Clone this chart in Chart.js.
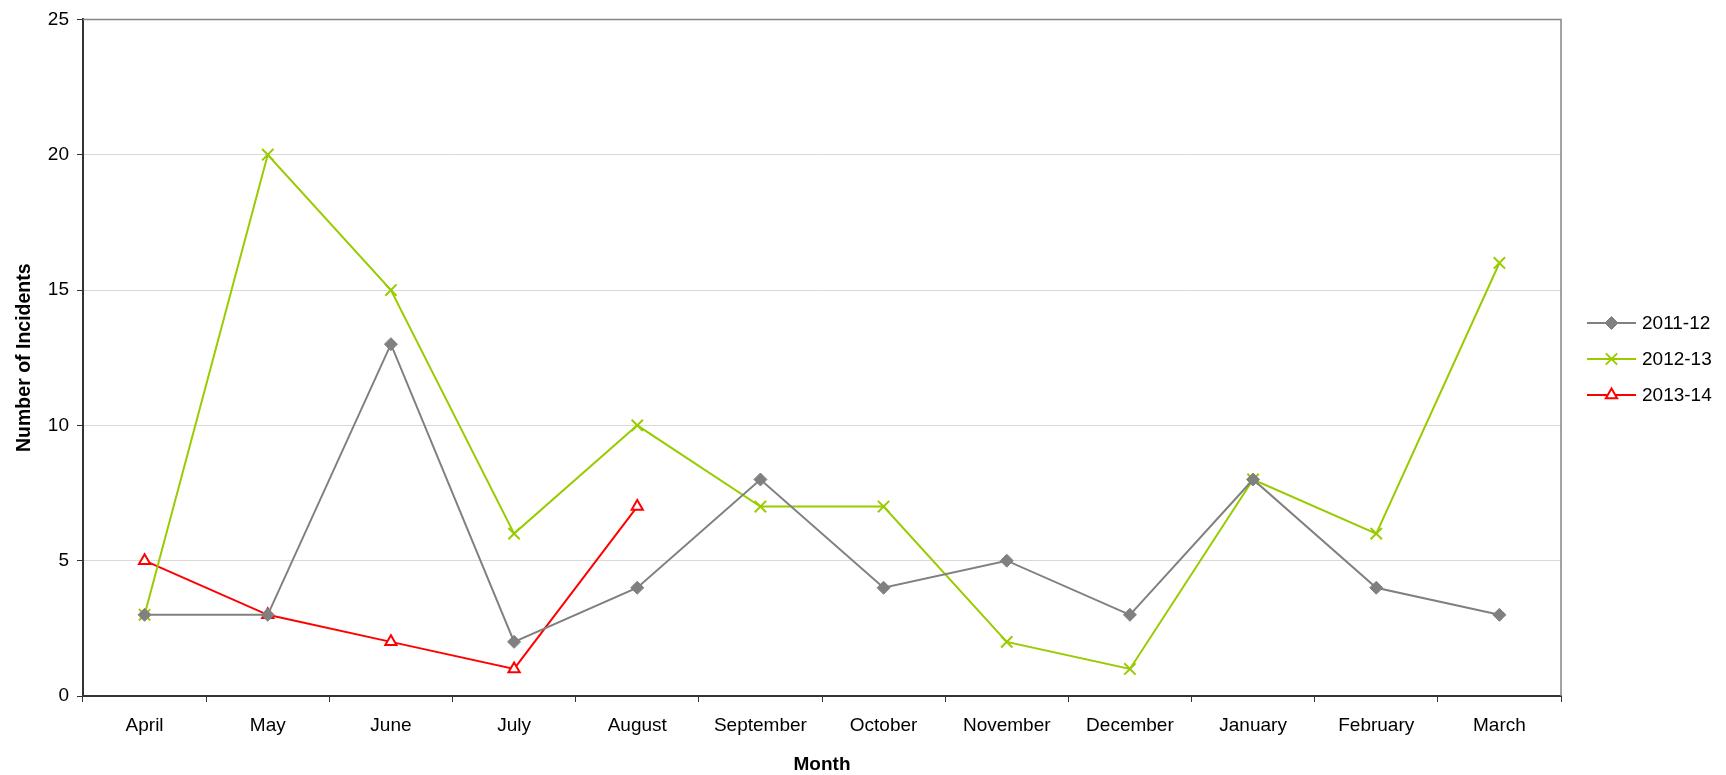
<!DOCTYPE html>
<html>
<head>
<meta charset="utf-8">
<script src="https://cdn.jsdelivr.net/npm/chart.js@4/dist/chart.umd.min.js"></script>
<style>
  html, body { margin: 0; padding: 0; background: #fff; }
  #wrap { width: 1726px; height: 775px; position: relative; }
</style>
</head>
<body>
<div id="wrap"><canvas id="c"></canvas></div>
<script>
// Monthly incident counts by financial year
const months = ['April', 'May', 'June', 'July', 'August', 'September', 'October',
                'November', 'December', 'January', 'February', 'March'];
const incidents2011 = [3, 3, 13, 2, 4, 8, 4, 5, 3, 8, 4, 3];
const incidents2012 = [3, 20, 15, 6, 10, 7, 7, 2, 1, 8, 6, 16];
const incidents2013 = [5, 3, 2, 1, 7];
const yTicks = [0, 5, 10, 15, 20, 25];

const FONT = 'Liberation Sans, Arial, sans-serif';

// Legend drawn at the right, with a short line and the series marker
const sideLegend = {
  id: 'sideLegend',
  afterDraw(chart) {
    const ctx = chart.ctx;
    const x0 = 1587, x1 = 1636, tx = 1642;
    const rows = [323, 359, 395];
    chart.data.datasets.forEach((ds, i) => {
      const y = rows[i];
      ctx.save();
      ctx.strokeStyle = ds.borderColor;
      ctx.lineWidth = 2;
      ctx.beginPath();
      ctx.moveTo(x0, y);
      ctx.lineTo(x1, y);
      ctx.stroke();
      ctx.fillStyle = ds.pointBackgroundColor;
      ctx.strokeStyle = ds.pointBorderColor;
      ctx.lineWidth = ds.pointBorderWidth;
      Chart.helpers.drawPoint(ctx, {
        pointStyle: ds.pointStyle,
        radius: ds.pointRadius,
        borderWidth: ds.pointBorderWidth
      }, (x0 + x1) / 2, y);
      ctx.fillStyle = '#000';
      ctx.font = '19px ' + FONT;
      ctx.textBaseline = 'middle';
      ctx.textAlign = 'left';
      ctx.fillText(ds.label, tx, y + 1);
      ctx.restore();
    });
  }
};

// Frame: gray top and right edges of the plot area
const frame = {
  id: 'frame',
  beforeDatasetsDraw(chart) {
    const { ctx, chartArea: a } = chart;
    ctx.save();
    ctx.strokeStyle = '#858585';
    ctx.lineWidth = 1.5;
    ctx.beginPath();
    ctx.moveTo(a.left, a.top);
    ctx.lineTo(a.right, a.top);
    ctx.lineTo(a.right, a.bottom);
    ctx.stroke();
    ctx.restore();
  }
};

new Chart(document.getElementById('c'), {
  type: 'line',
  data: {
    labels: months,
    datasets: [
      {
        label: '2011-12',
        data: incidents2011,
        borderColor: '#808080',
        borderWidth: 2,
        pointStyle: 'rectRot',
        pointRadius: 6.5,
        pointHoverRadius: 6.5,
        pointBackgroundColor: '#808080',
        pointBorderColor: '#808080',
        pointBorderWidth: 1
      },
      {
        label: '2012-13',
        data: incidents2012,
        borderColor: '#99CC00',
        borderWidth: 2,
        pointStyle: 'crossRot',
        pointRadius: 8,
        pointHoverRadius: 8,
        pointBackgroundColor: '#99CC00',
        pointBorderColor: '#99CC00',
        pointBorderWidth: 2
      },
      {
        label: '2013-14',
        data: incidents2013,
        borderColor: '#FF0000',
        borderWidth: 2,
        pointStyle: 'triangle',
        pointRadius: 6.5,
        pointHoverRadius: 6.5,
        pointBackgroundColor: '#FFFFFF',
        pointBorderColor: '#FF0000',
        pointBorderWidth: 2
      }
    ]
  },
  options: {
    responsive: true,
    maintainAspectRatio: false,
    animation: false,
    events: [],
    layout: { padding: { left: 0, top: 19, right: 165, bottom: 0 } },
    elements: { line: { tension: 0 } },
    plugins: {
      legend: { display: false },
      tooltip: { enabled: false }
    },
    scales: {
      x: {
        offset: true,
        grid: {
          offset: true,
          drawOnChartArea: false,
          drawTicks: true,
          tickLength: 6,
          tickColor: '#333',
          color: '#333'
        },
        border: { color: '#333', width: 2 },
        ticks: {
          color: '#000',
          font: { family: FONT, size: 19 },
          padding: 12,
          maxRotation: 0,
          autoSkip: false
        },
        title: {
          display: true,
          text: 'Month',
          color: '#000',
          font: { family: FONT, size: 19, weight: 'bold' },
          padding: { top: 0, bottom: -1 }
        },
        afterFit(scale) { scale.height = 79; }
      },
      y: {
        min: 0,
        max: 25,
        afterBuildTicks(scale) { scale.ticks = yTicks.map(v => ({ value: v })); },
        grid: {
          color: '#d9d9d9',
          lineWidth: 1,
          tickLength: 6,
          tickColor: '#333',
          drawTicks: true
        },
        border: { color: '#333', width: 2 },
        ticks: {
          color: '#000',
          font: { family: FONT, size: 19 },
          padding: 8
        },
        title: {
          display: true,
          text: 'Number of Incidents',
          color: '#000',
          font: { family: FONT, size: 19.5, weight: 'bold' },
          padding: { top: 13, bottom: 0 }
        },
        afterFit(scale) { scale.width = 83; }
      }
    }
  },
  plugins: [frame, sideLegend]
});
</script>
</body>
</html>
